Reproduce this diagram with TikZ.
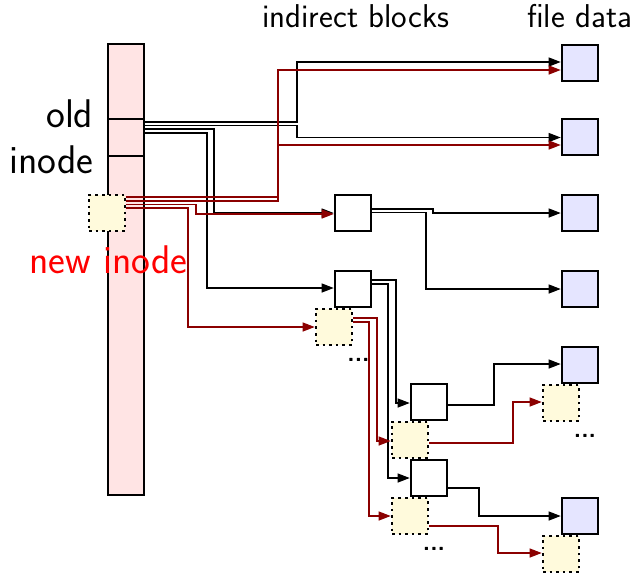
\documentclass[tikz,border=0pt]{standalone}
\usetikzlibrary{arrows.meta}
\definecolor{pinkfill}{RGB}{255,228,228}
\definecolor{yelfill}{RGB}{255,250,220}
\definecolor{lavfill}{RGB}{229,229,255}
\definecolor{darkred}{RGB}{139,0,0}
\begin{document}
\begin{tikzpicture}[x=1pt,y=-1pt,
  blockbox/.style={draw=black,line width=2.6pt,minimum width=36pt,minimum height=36pt,inner sep=0pt,fill=white},
  databox/.style={blockbox,fill=lavfill},
  newbox/.style={draw=black,line width=2.6pt,dash pattern=on 2.6pt off 4pt,minimum width=36pt,minimum height=36pt,inner sep=0pt,fill=yelfill},
  blk/.style={line width=1.1pt,-{Triangle[length=12pt,width=9pt]}},
  rdl/.style={blk,draw=darkred},
  hdr/.style={font=\fontsize{33}{39}\selectfont\sffamily,inner sep=0pt},
  big/.style={font=\fontsize{40}{48}\selectfont\sffamily,inner sep=0pt},
  dotsl/.style={font=\fontsize{24}{28}\selectfont\sffamily\bfseries,inner sep=0pt,anchor=base}]
\useasboundingbox (0,0) rectangle (634,574);
% inode table
\node[draw=black,fill=pinkfill,line width=2.6pt,minimum width=36pt,minimum height=451pt,inner sep=0pt] (table) at (126,269.5) {};
\node[draw=black,line width=2.6pt,minimum width=36pt,minimum height=37pt,inner sep=0pt] (old) at (126,137.5) {};
\node[newbox] (new) at (107,213) {};
% labels
\node[hdr,anchor=base west] (lblind) at (262,27) {indirect blocks};
\node[hdr,anchor=base west] (lblfile) at (527,27) {file data};
\node[big,anchor=base east] (lblold) at (93.5,127) {old};
\node[big,anchor=base east] (lblinode) at (93.5,173) {inode};
\node[big,anchor=base west,text=red] (lblnew) at (29,273) {new inode};
% indirect blocks
\node[blockbox] (A) at (353,213) {};
\node[blockbox] (B) at (353,289) {};
\node[newbox] (Bp) at (334,327) {};
\node[blockbox] (C) at (429,402) {};
\node[newbox] (Cp) at (410,440) {};
\node[blockbox] (D) at (429,478) {};
\node[newbox] (Dp) at (410,516) {};
% file data
\node[databox] (d1) at (580,63) {};
\node[databox] (d2) at (580,137) {};
\node[databox] (d3) at (580,213) {};
\node[databox] (d4) at (580,289) {};
\node[databox] (d5) at (580,365) {};
\node[newbox] (e5) at (561,403) {};
\node[databox] (d6) at (580,516) {};
\node[newbox] (e6) at (561,554) {};
% dots
\node[dotsl] (dots1) at (358.5,361.5) {...};
\node[dotsl] (dots2) at (434,550.5) {...};
\node[dotsl] (dots3) at (585,437.5) {...};
% old inode pointers
\draw[blk] (old.east |- 0,122) -- (297,122) |- (d1.west |- 0,62);
\draw[blk] (old.east |- 0,125.5) -- (297,125.5) |- (d2.west |- 0,137.5);
\draw[blk] (old.east |- 0,129) -- (214,129) |- (A.west |- 0,213);
\draw[blk] (old.east |- 0,133) -- (207,133) |- (B.west |- 0,288);
% new inode pointers
\draw[rdl] (new.east |- 0,197) -- (278,197) |- (d1.west |- 0,70);
\draw[rdl] (new.east |- 0,201) -- (278,201) |- (d2.west |- 0,145);
\draw[rdl] (new.east |- 0,204.5) -- (196,204.5) |- (A.west |- 0,214);
\draw[rdl] (new.east |- 0,208) -- (188,208) |- (Bp.west |- 0,327);
% indirect A
\draw[blk] (A.east |- 0,209) -- (433,209) -- (433,213) -- (d3.west |- 0,213);
\draw[blk] (A.east |- 0,212.5) -- (426,212.5) |- (d4.west |- 0,289);
% indirect B
\draw[blk] (B.east |- 0,280) -- (396,280) |- (C.west |- 0,403);
\draw[blk] (B.east |- 0,284) -- (388,284) |- (D.west |- 0,478);
% indirect B'
\draw[rdl] (Bp.east |- 0,318) -- (377,318) |- (Cp.west |- 0,441);
\draw[rdl] (Bp.east |- 0,322) -- (369,322) |- (Dp.west |- 0,516);
% second level
\draw[blk] (C.east |- 0,405) -- (494,405) |- (d5.west |- 0,364);
\draw[rdl] (Cp.east |- 0,443) -- (513,443) |- (e5.west |- 0,402);
\draw[blk] (D.east |- 0,488) -- (479,488) |- (d6.west |- 0,516);
\draw[rdl] (Dp.east |- 0,526) -- (498,526) |- (e6.west |- 0,553);
\end{tikzpicture}
\end{document}
